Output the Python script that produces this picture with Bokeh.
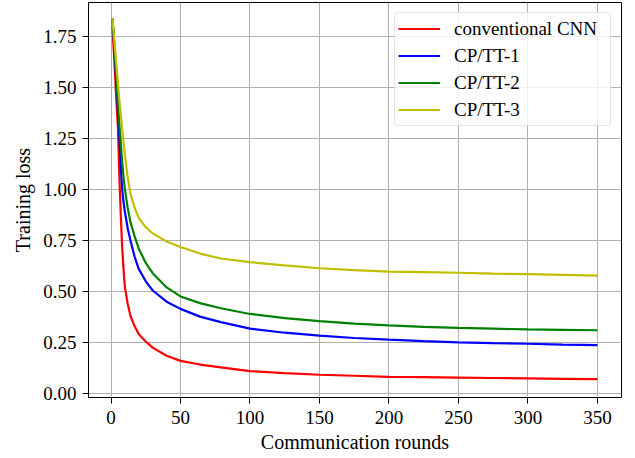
from bokeh.plotting import figure
from bokeh.models import Range1d, FixedTicker, Legend, LegendItem, NumeralTickFormatter
from bokeh.embed import file_html
from bokeh.resources import INLINE

rounds = [1, 2, 3, 4, 5, 6, 7, 8, 9, 10, 12, 14, 17, 20, 25, 30, 40, 50, 64, 79,
          100, 125, 150, 175, 200, 225, 250, 275, 300, 325, 350]

cnn = [1.80, 1.68, 1.55, 1.42, 1.30, 1.06, 0.88, 0.72, 0.61, 0.52, 0.44, 0.38, 0.33, 0.29, 0.255,
       0.225, 0.185, 0.160, 0.142, 0.128, 0.110, 0.100, 0.092, 0.087, 0.082, 0.080, 0.078, 0.076,
       0.074, 0.072, 0.070]
cptt1 = [1.84, 1.74, 1.62, 1.50, 1.38, 1.26, 1.12, 1.00, 0.94, 0.89, 0.81, 0.75, 0.67, 0.61, 0.55,
         0.505, 0.45, 0.415, 0.377, 0.350, 0.318, 0.298, 0.284, 0.272, 0.264, 0.257, 0.251, 0.247,
         0.244, 0.240, 0.237]
cptt2 = [1.84, 1.75, 1.64, 1.53, 1.42, 1.32, 1.23, 1.14, 1.06, 1.00, 0.91, 0.84, 0.77, 0.71, 0.64,
         0.59, 0.52, 0.476, 0.443, 0.418, 0.390, 0.370, 0.355, 0.343, 0.334, 0.327, 0.322, 0.318,
         0.314, 0.312, 0.310]
cptt3 = [1.84, 1.76, 1.68, 1.60, 1.52, 1.44, 1.37, 1.30, 1.23, 1.17, 1.06, 0.98, 0.91, 0.86, 0.815,
         0.785, 0.745, 0.718, 0.686, 0.662, 0.644, 0.628, 0.614, 0.605, 0.598, 0.595, 0.592, 0.588,
         0.585, 0.582, 0.578]

series_names = ["conventional CNN", "CP/TT-1", "CP/TT-2", "CP/TT-3"]
series_values = [cnn, cptt1, cptt2, cptt3]
series_colors = ["#ff0000", "#0000ff", "#008000", "#bfbf00"]

x_ticks = [0, 50, 100, 150, 200, 250, 300, 350]
y_ticks = [0.0, 0.25, 0.5, 0.75, 1.0, 1.25, 1.5, 1.75]

FONT = "Liberation Serif"

p = figure(width=629, height=455, output_backend="svg", toolbar_location=None,
           x_range=Range1d(-16.2, 367.3), y_range=Range1d(-0.0196, 1.917),
           min_border_left=88, min_border_right=8, min_border_top=2, min_border_bottom=58)

p.background_fill_color = "white"
p.border_fill_color = "white"
p.outline_line_color = "black"
p.outline_line_width = 1

for ax in (p.xaxis[0], p.yaxis[0]):
    ax.major_label_text_font = FONT
    ax.major_label_text_font_size = "19px"
    ax.major_label_text_color = "black"
    ax.axis_label_text_font = FONT
    ax.axis_label_text_font_size = "20px"
    ax.axis_label_text_font_style = "normal"
    ax.axis_label_text_color = "black"
    ax.axis_line_color = "black"
    ax.major_tick_line_color = "black"
    ax.major_tick_in = 0
    ax.major_tick_out = 6
    ax.minor_tick_line_color = None

p.xaxis.major_label_standoff = 7
p.yaxis.major_label_standoff = 6
p.xaxis.ticker = FixedTicker(ticks=x_ticks)
p.yaxis.ticker = FixedTicker(ticks=y_ticks)
p.yaxis.formatter = NumeralTickFormatter(format="0.00")
p.xaxis.axis_label = "Communication rounds"
p.yaxis.axis_label = "Training loss"
p.xaxis.axis_label_standoff = 4
p.yaxis.axis_label_standoff = 6

p.xgrid.grid_line_color = "#b0b0b0"
p.ygrid.grid_line_color = "#b0b0b0"
p.xgrid.grid_line_width = 1
p.ygrid.grid_line_width = 1

items = []
for name, vals, col in zip(series_names, series_values, series_colors):
    r = p.line(rounds, vals, line_color=col, line_width=2.2)
    items.append(LegendItem(label=name, renderers=[r]))

legend = Legend(items=items, location="top_right")
legend.label_text_font = FONT
legend.label_text_font_size = "19px"
legend.label_text_color = "black"
legend.glyph_width = 42
legend.glyph_height = 25
legend.label_height = 25
legend.label_width = 153
legend.label_standoff = 14
legend.spacing = 2
legend.padding = 3
legend.margin = 10
legend.border_line_color = "#cccccc"
legend.border_line_width = 1
legend.border_radius = 4
legend.background_fill_color = "white"
legend.background_fill_alpha = 0.8
p.add_layout(legend)

open("out.html", "w").write(file_html(p, INLINE))
